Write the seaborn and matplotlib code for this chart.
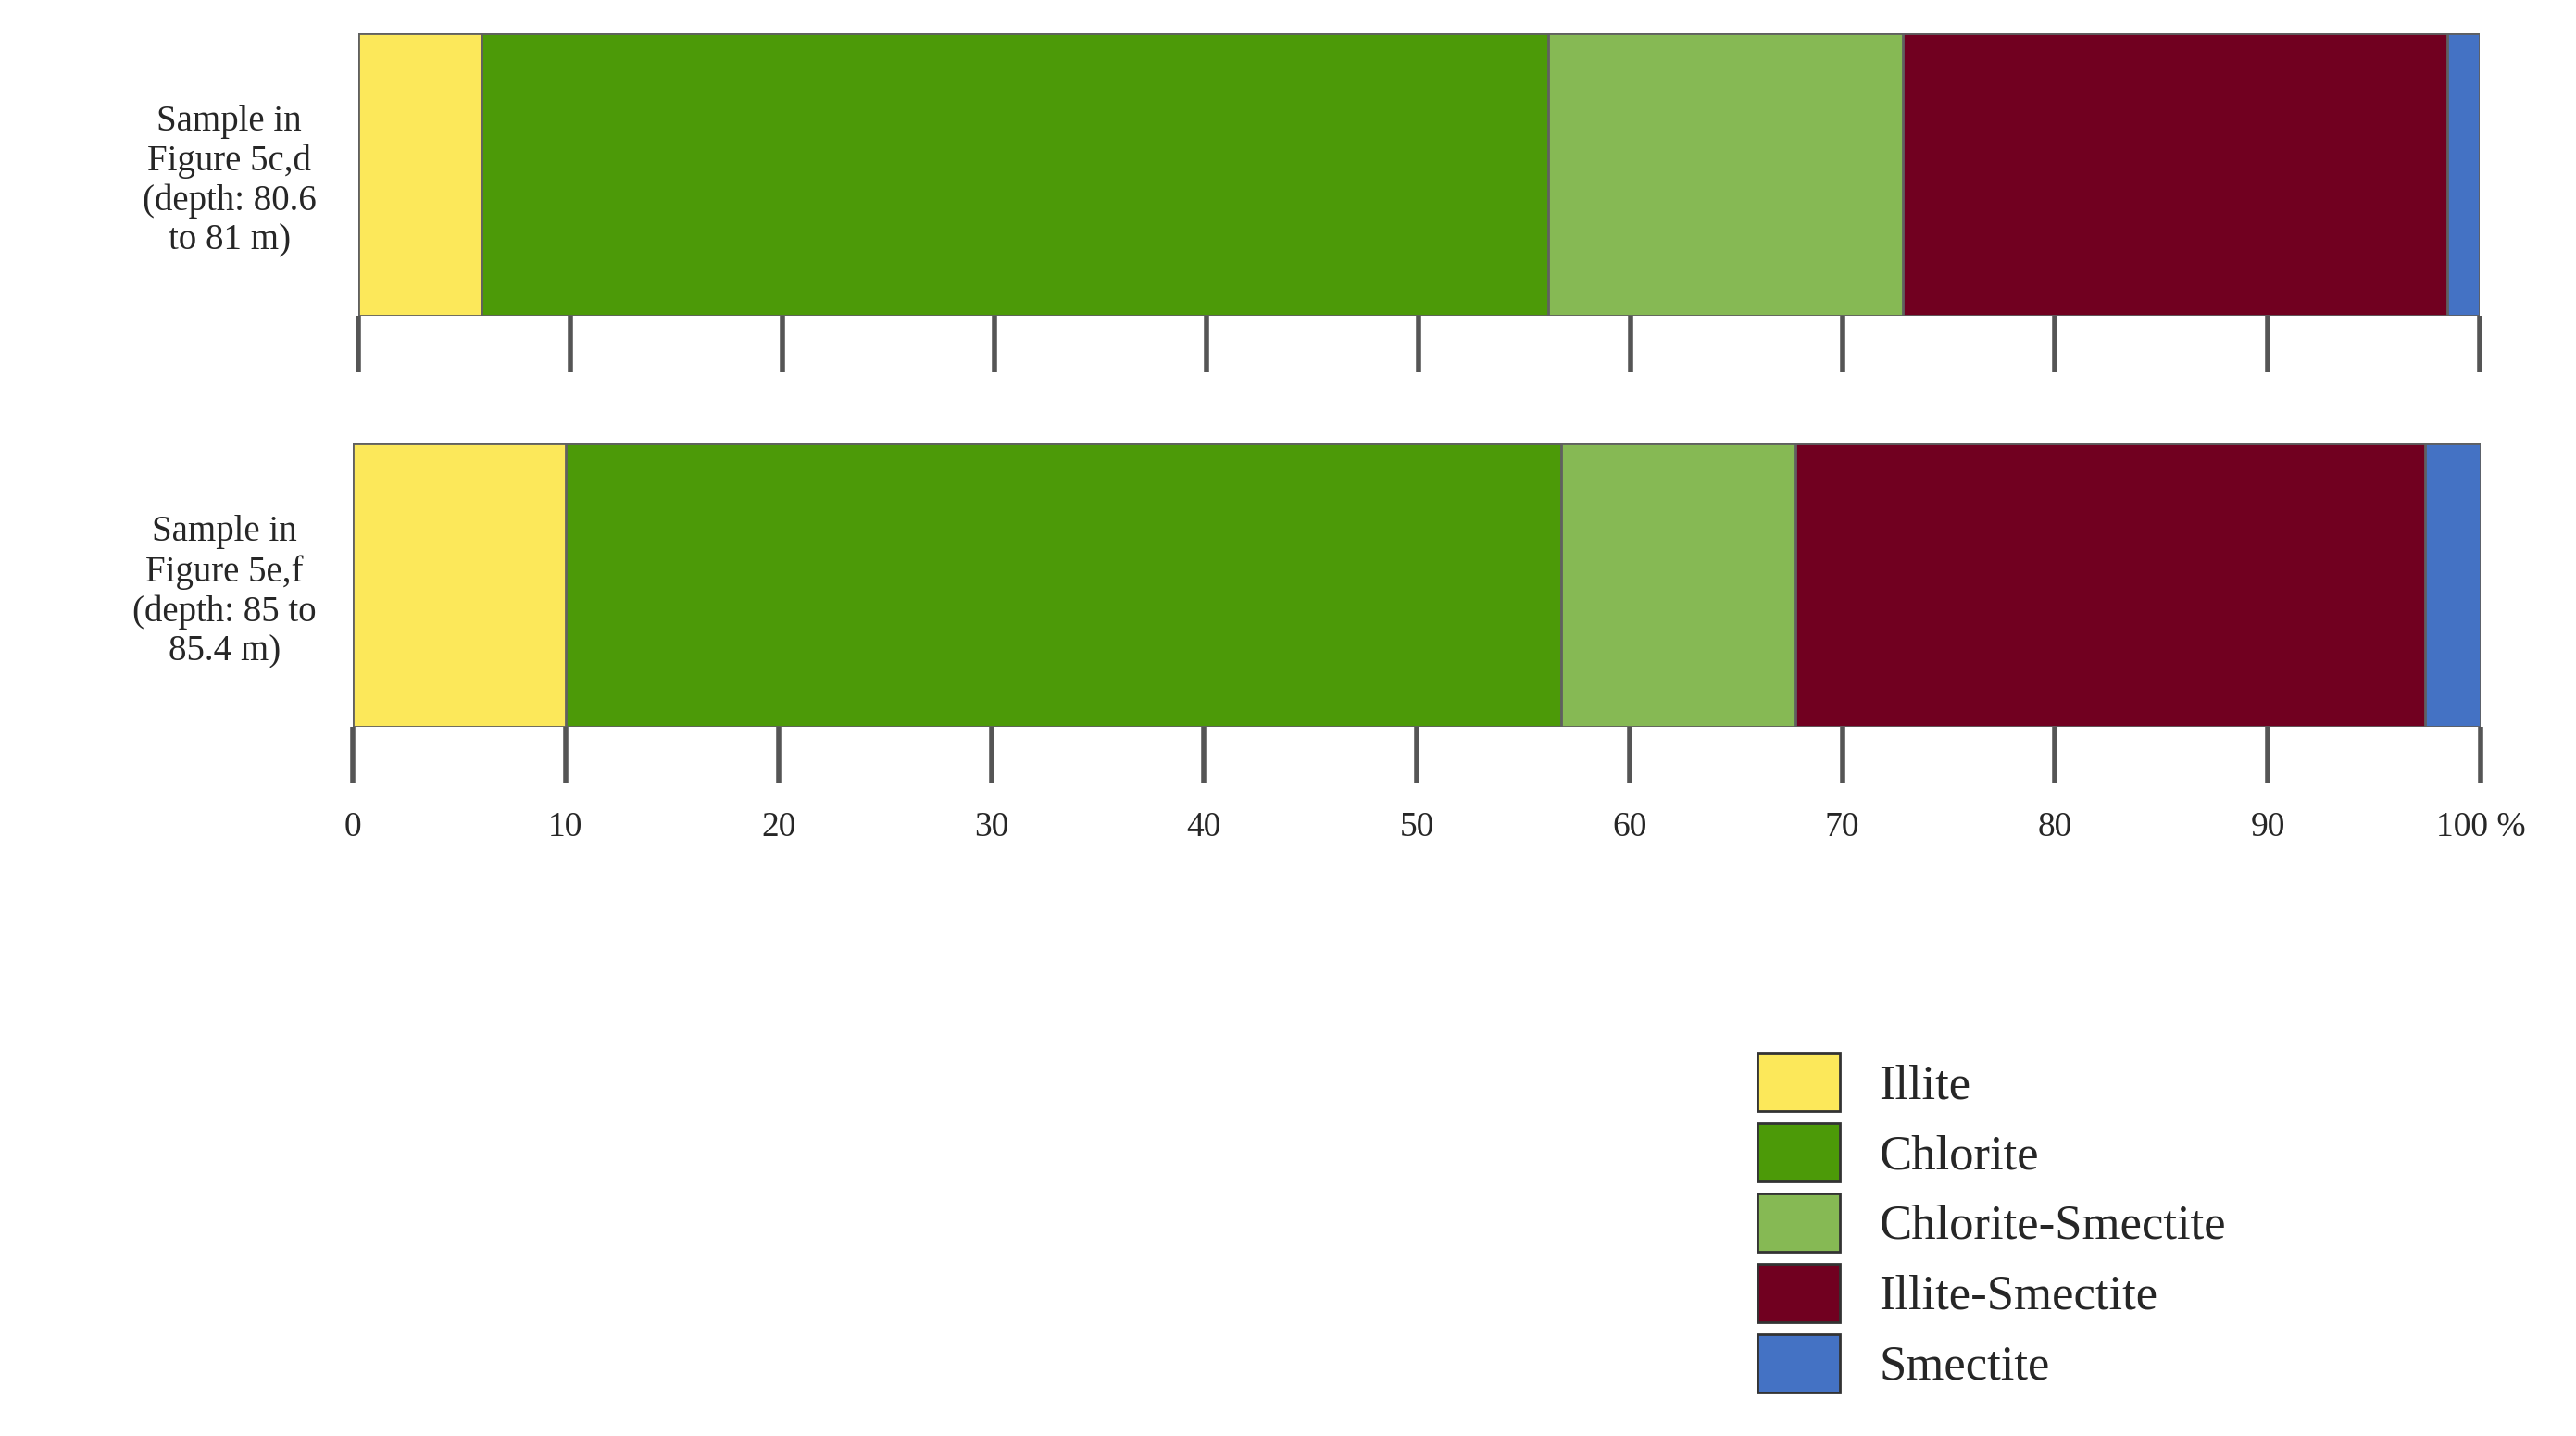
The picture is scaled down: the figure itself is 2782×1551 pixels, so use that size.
import numpy as np
import pandas as pd
import matplotlib.pyplot as plt
import seaborn as sns
from matplotlib.patches import Patch

# data
minerals = ["Illite", "Chlorite", "Chlorite-Smectite", "Illite-Smectite", "Smectite"]
colors = ["#fce85a", "#4c9a08", "#86b954", "#710020", "#4472c4"]
samples = ["Sample in\nFigure 5c,d\n(depth: 80.6\nto 81 m)",
           "Sample in\nFigure 5e,f\n(depth: 85 to\n85.4 m)"]
sample_cd = [5.8, 50.3, 16.7, 25.7, 1.5]
sample_ef = [10.0, 46.8, 11.0, 29.6, 2.6]
ticks = [0, 10, 20, 30, 40, 50, 60, 70, 80, 90, 100]
tick_labels = ["0", "10", "20", "30", "40", "50", "60", "70", "80", "90", "100 %"]

sns.set_style("white")
plt.rcParams['font.family'] = ['Liberation Serif', 'DejaVu Serif']

fig = plt.figure(figsize=(27.82, 15.51), dpi=100)
ax1 = fig.add_axes([0.139, 0.780, 0.8235, 0.197])
ax2 = fig.add_axes([0.137, 0.494, 0.826, 0.197])

for ax, vals, name, show_labels in [(ax1, sample_cd, samples[0], False),
                                     (ax2, sample_ef, samples[1], True)]:
    cum = np.cumsum(vals)
    # draw cumulative bars from the longest to the shortest so they stack
    for i in range(len(vals) - 1, -1, -1):
        df = pd.DataFrame({"sample": [name], "value": [cum[i]]})
        sns.barplot(data=df, x="value", y="sample", color=colors[i], ax=ax,
                    width=1.0, edgecolor="#606060", linewidth=2, saturation=1)
    ax.set_xlim(0, 100)
    ax.set_ylim(0.5, -0.5)
    ax.set_xlabel("")
    ax.set_ylabel("")
    for s in ax.spines.values():
        s.set_visible(False)
    ax.set_xticks(ticks)
    ax.tick_params(axis="x", length=44, width=4, color="#555555", direction="out",
                   bottom=True, pad=22, labelsize=27)
    ax.set_xticklabels(tick_labels if show_labels else [])
    ax.set_yticks([0])
    ax.set_yticklabels([name], fontsize=28, linespacing=1.2, ha="center")
    ax.tick_params(axis="y", length=0, pad=100)
    ax.set_clip_on(False)

handles = [Patch(facecolor=c, edgecolor="#333333", linewidth=2) for c in colors]
fig.legend(handles, minerals, loc="lower left", bbox_to_anchor=(0.665, 0.0),
           frameon=False, fontsize=38, handlelength=1.7, handleheight=1.45,
           handletextpad=0.8, labelspacing=0.25)

fig.savefig("out.png", dpi=100)
